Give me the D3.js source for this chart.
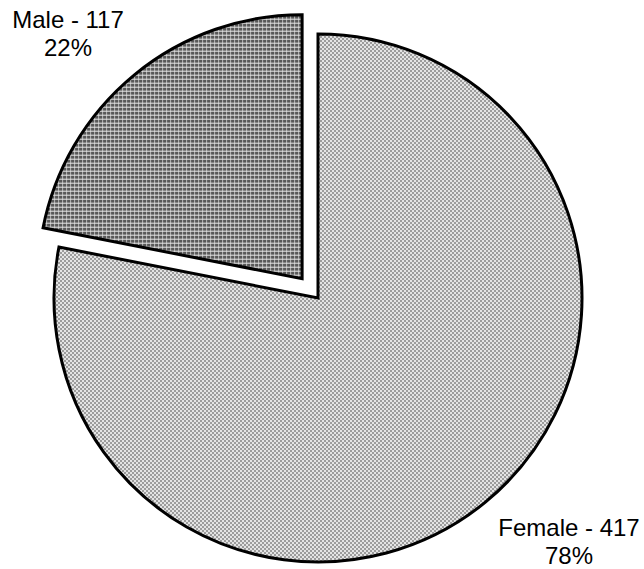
<!DOCTYPE html>
<html>
<head>
<meta charset="utf-8">
<script src="https://cdn.jsdelivr.net/npm/d3@7"></script>
<style>
  html, body { margin: 0; padding: 0; background: #fff; }
  svg { display: block; }
  text { font-family: "Liberation Sans", Arial, sans-serif; font-size: 24px; fill: #000; }
</style>
</head>
<body>
<svg id="chart" width="644" height="569"></svg>
<script>
// Respondents by gender
const categories = ["Female", "Male"];
const counts = [417, 117];
const percentLabels = ["78%", "22%"];
const explode = [0, 25];

const width = 644, height = 569;
const cx = 318, cy = 298, radius = 264;

const svg = d3.select("#chart");
const defs = svg.append("defs");

// Light checkerboard fill
const pF = defs.append("pattern").attr("id", "patFemale")
  .attr("patternUnits", "userSpaceOnUse").attr("width", 4).attr("height", 4);
pF.append("rect").attr("width", 4).attr("height", 4).attr("fill", "#e4e4e4");
pF.append("rect").attr("x", 0).attr("y", 0).attr("width", 2).attr("height", 2).attr("fill", "#9c9c9c");
pF.append("rect").attr("x", 2).attr("y", 2).attr("width", 2).attr("height", 2).attr("fill", "#9c9c9c");

// Dark grid fill
const pM = defs.append("pattern").attr("id", "patMale")
  .attr("patternUnits", "userSpaceOnUse").attr("width", 4).attr("height", 4);
pM.append("rect").attr("width", 4).attr("height", 4).attr("fill", "#585858");
pM.append("rect").attr("x", 0).attr("y", 0).attr("width", 1).attr("height", 4).attr("fill", "#b8b8b8");
pM.append("rect").attr("x", 0).attr("y", 0).attr("width", 4).attr("height", 1).attr("fill", "#e8e8e8");

const fills = d3.scaleOrdinal().domain(categories).range(["url(#patFemale)", "url(#patMale)"]);

const pie = d3.pie().sort(null).value(d => d.value).startAngle(0).endAngle(2 * Math.PI);
const data = categories.map((c, i) => ({ name: c, value: counts[i], pct: percentLabels[i], off: explode[i] }));
const arcs = pie(data);
const arc = d3.arc().innerRadius(0).outerRadius(radius);

const g = svg.append("g").attr("transform", `translate(${cx},${cy})`);

g.selectAll("path").data(arcs).join("path")
  .attr("transform", d => {
    const a = (d.startAngle + d.endAngle) / 2;
    return `translate(${Math.sin(a) * d.data.off},${-Math.cos(a) * d.data.off})`;
  })
  .attr("d", arc)
  .attr("fill", d => fills(d.data.name))
  .attr("stroke", "#000")
  .attr("stroke-width", 3)
  .attr("stroke-linejoin", "miter");

// Category labels
const labelPos = { Female: [569, 536], Male: [68, 28] };
const labels = svg.selectAll("g.lbl").data(arcs).join("g").attr("class", "lbl")
  .attr("transform", d => `translate(${labelPos[d.data.name][0]},${labelPos[d.data.name][1]})`);
labels.append("text").attr("text-anchor", "middle")
  .text(d => `${d.data.name} - ${d.data.value}`);
labels.append("text").attr("text-anchor", "middle").attr("y", 28)
  .text(d => d.data.pct);
</script>
</body>
</html>
